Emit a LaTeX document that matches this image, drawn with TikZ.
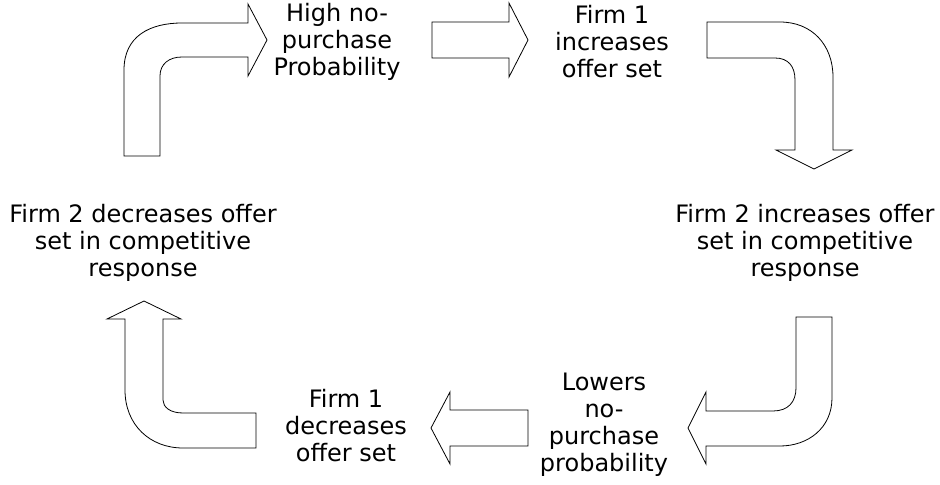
\documentclass[tikz,border=0pt]{standalone}
\usepackage{fontspec}
\setmainfont{DejaVu Sans}
\usepackage{tikz}
\tikzset{
blockarrow/.style={
  draw=black,
  fill=white,
  line width=0.6pt,
  line join=miter
},
lbl/.style={
  align=center,
  inner sep=0pt,
  font=\fontsize{18}{20.25}\selectfont
},
}

\begin{document}
\begin{tikzpicture}[x=0.75pt,y=-0.75pt]
            \useasboundingbox (0,0) rectangle (940,485);
            \path[blockarrow] (124,156) -- (124,70) .. controls (124,36) and (150,23) .. (182,23) -- (248,23) -- (248,4) -- (267,40) -- (248,76) -- (248,57) -- (182,57) .. controls (169,57) and (160,64) .. (160,76) -- (160,156) -- cycle;
            \path[blockarrow] (432,22) -- (509,22) -- (509,3) -- (528,40) -- (509,77) -- (509,58) -- (432,58) -- cycle;
            \path[blockarrow] (707,22) -- (780,22) .. controls (812,22) and (833,45) .. (833,77) -- (833,150) -- (852,150) -- (814,169) -- (776,150) -- (795,150) -- (795,80) .. controls (795,66) and (788,58) .. (775,58) -- (707,58) -- cycle;
            \path[blockarrow] (796,317) -- (832,317) -- (832,398) .. controls (832,428) and (808,446) .. (780,446) -- (706,446) -- (706,464) -- (688,428) -- (706,392) -- (706,411) -- (773,411) .. controls (788,411) and (796,402) .. (796,388) -- cycle;
            \path[blockarrow] (528,410) -- (450,410) -- (450,392) -- (431,428) -- (450,464) -- (450,446) -- (528,446) -- cycle;
            \path[blockarrow] (256,413) -- (183,413) .. controls (170,413) and (163,407) .. (163,400) -- (163,319) -- (181,319) -- (144,301) -- (107,319) -- (125,319) -- (125,390) .. controls (125,425) and (150,448) .. (183,448) -- (256,448) -- cycle;
            \node[lbl] (high) at (337,42) {High no-\\purchase\\Probability};
            \node[lbl] (firm1inc) at (612,42) {Firm 1\\increases\\offer set};
            \node[lbl] (firm2inc) at (805,243) {Firm 2 increases offer\\set in competitive\\response};
            \node[lbl] (lowers) at (604,425) {Lowers\\no-\\purchase\\probability};
            \node[lbl] (firm1dec) at (346,426) {Firm 1\\decreases\\offer set};
            \node[lbl] (firm2dec) at (143,243) {Firm 2 decreases offer\\set in competitive\\response};
\end{tikzpicture}
\end{document}
